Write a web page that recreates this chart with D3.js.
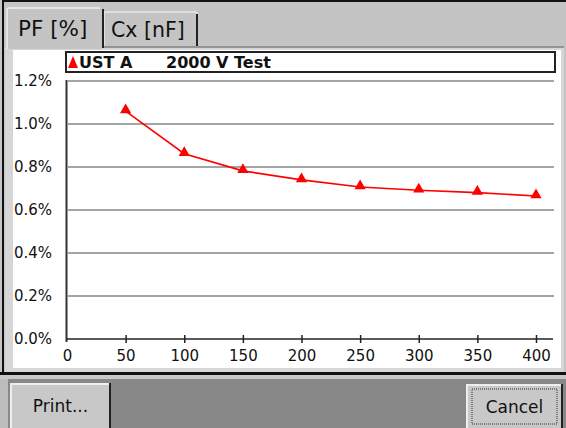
<!DOCTYPE html>
<html><head><meta charset="utf-8">
<script src="https://cdn.jsdelivr.net/npm/d3@7"></script>
<style>
html,body{margin:0;padding:0;background:#c4c4c4;}
svg{display:block;}
</style></head>
<body>
<svg id="c" width="566" height="428"></svg>
<script>
const voltages = [50, 100, 150, 200, 250, 300, 350, 400];
const pfValues = [1.06, 0.862, 0.782, 0.740, 0.707, 0.692, 0.681, 0.665];
const xTicks = [0, 50, 100, 150, 200, 250, 300, 350, 400];
const yTicks = [0, 0.2, 0.4, 0.6, 0.8, 1.0, 1.2];
const tabLabels = ["PF [%]", "Cx [nF]"];
const legendLabel = ["UST A", "2000 V Test"];
const buttonLabels = ["Print...", "Cancel"];

const svg = d3.select("#c");
const F = "'DejaVu Sans', Verdana, sans-serif";

// window background
svg.append("rect").attr("x",0).attr("y",0).attr("width",566).attr("height",428).attr("fill","#c4c4c4");
// outer dark frame top/left
svg.append("rect").attr("x",2).attr("y",0).attr("width",564).attr("height",2).attr("fill","#111");
svg.append("rect").attr("x",2).attr("y",0).attr("width",2).attr("height",376).attr("fill","#111");

// panel
svg.append("rect").attr("x",5).attr("y",47).attr("width",559).attr("height",325).attr("fill","#d6d6d6");
svg.append("line").attr("x1",103).attr("x2",564).attr("y1",47).attr("y2",47).attr("stroke","#808080").attr("stroke-width",1.5);
svg.append("rect").attr("x",13).attr("y",50).attr("width",548).attr("height",318).attr("fill","#fff");

// tabs
const t2 = svg.append("g");
t2.append("path").attr("d","M104,46 L104,14 Q104,12 106,12 L195,12 Q197,12 197,14 L197,46")
  .attr("fill","#c4c4c4").attr("stroke","#e8e8e8").attr("stroke-width",1.5);
t2.append("line").attr("x1",197).attr("x2",197).attr("y1",14).attr("y2",46).attr("stroke","#222").attr("stroke-width",2);
t2.append("text").attr("x",111).attr("y",37).attr("font-family",F).attr("font-size",20.5).attr("fill","#111").text(tabLabels[1]);
const t1 = svg.append("g");
t1.append("path").attr("d","M7,49 L7,10 Q7,8 9,8 L100,8 Q102,8 102,10 L102,49 Z")
  .attr("fill","#c4c4c4");
t1.append("path").attr("d","M7,49 L7,10 Q7,8 9,8 L100,8").attr("fill","none").attr("stroke","#eeeeee").attr("stroke-width",1.5);
t1.append("line").attr("x1",103).attr("x2",103).attr("y1",9).attr("y2",48).attr("stroke","#222").attr("stroke-width",2);
t1.append("text").attr("x",18).attr("y",36).attr("font-family",F).attr("font-size",21.5).attr("fill","#111").text(tabLabels[0]);

// bottom black separator and bar
svg.append("rect").attr("x",0).attr("y",372).attr("width",566).attr("height",3).attr("fill","#111");
svg.append("rect").attr("x",0).attr("y",375).attr("width",566).attr("height",4).attr("fill","#c8c8c8");
svg.append("rect").attr("x",0).attr("y",379).attr("width",566).attr("height",49).attr("fill","#888888");
svg.append("rect").attr("x",0).attr("y",379).attr("width",8).attr("height",49).attr("fill","#bdbdbd");

// scales
const x = d3.scaleLinear().domain([0,400]).range([67,536]);
const y = d3.scaleLinear().domain([0,1.2]).range([339,81]);

// gridlines
svg.append("g").selectAll("line").data(yTicks.filter(d=>d>0)).join("line")
  .attr("x1",68).attr("x2",554).attr("y1",d=>y(d)).attr("y2",d=>y(d))
  .attr("stroke","#a4a4a4").attr("stroke-width",2);

// y axis line
svg.append("line").attr("x1",66.5).attr("x2",66.5).attr("y1",80).attr("y2",342).attr("stroke","#333").attr("stroke-width",2);

// x axis
const xa = svg.append("g").attr("transform","translate(0,339)")
  .call(d3.axisBottom(x).tickValues(xTicks).tickSize(4).tickSizeOuter(0).tickFormat(d3.format("d")));
xa.select(".domain").remove();
xa.append("line").attr("x1",66).attr("x2",553).attr("y1",0).attr("y2",0).attr("stroke","#222").attr("stroke-width",1.5);
xa.selectAll(".tick line").attr("y1",-4).attr("y2",4).attr("stroke","#222").attr("stroke-width",1.5)
  .filter(d=>d===0).remove();
xa.selectAll(".tick text").attr("y",11).attr("dy","0.71em").attr("font-family",F).attr("font-size",15).attr("fill","#111");

// y axis labels
const ya = svg.append("g").attr("transform","translate(52,0)")
  .call(d3.axisLeft(y).tickValues(yTicks).tickSize(0).tickPadding(0).tickFormat(d=>d3.format(".1f")(d)+"%"));
ya.select(".domain").remove();
ya.selectAll(".tick text").attr("font-family",F).attr("font-size",15).attr("fill","#111");

// data line
const line = d3.line().x((d,i)=>x(voltages[i])).y(d=>y(d));
svg.append("path").datum(pfValues).attr("d",line).attr("fill","none").attr("stroke","#ff0000").attr("stroke-width",1.6);
const tri = d3.symbol().type(d3.symbolTriangle).size(55);
svg.append("g").selectAll("path").data(pfValues).join("path")
  .attr("transform",(d,i)=>`translate(${x(voltages[i])},${y(d)-1})`)
  .attr("d",tri).attr("fill","#ff0000");

// legend box
svg.append("rect").attr("x",66).attr("y",52).attr("width",489).attr("height",20).attr("fill","#fff").attr("stroke","#222").attr("stroke-width",2);
svg.append("path").attr("d","M68,68 L73,56 L78,68 Z").attr("fill","#ff0000");
svg.append("text").attr("x",79).attr("y",68).attr("font-family",F).attr("font-weight","bold").attr("font-size",16).attr("fill","#111").text(legendLabel[0]);
svg.append("text").attr("x",166).attr("y",68).attr("font-family",F).attr("font-weight","bold").attr("font-size",16).attr("fill","#111").text(legendLabel[1]);

// buttons
function button(x0,y0,w,h,label,focus){
  const g = svg.append("g");
  g.append("rect").attr("x",x0).attr("y",y0).attr("width",w).attr("height",h).attr("fill","#c8c8c8");
  g.append("path").attr("d",`M${x0+1},${y0+h} L${x0+1},${y0+1} L${x0+w},${y0+1}`).attr("fill","none").attr("stroke","#eeeeee").attr("stroke-width",2);
  g.append("path").attr("d",`M${x0+w-1},${y0} L${x0+w-1},${y0+h}`).attr("fill","none").attr("stroke","#222").attr("stroke-width",2);
  if(focus){
    g.append("rect").attr("x",x0+6).attr("y",y0+5).attr("width",w-12).attr("height",h-10).attr("fill","none")
      .attr("stroke","#333").attr("stroke-width",1).attr("stroke-dasharray","1,1");
  }
  g.append("text").attr("x",x0+w/2).attr("y",y0+h/2+6).attr("text-anchor","middle").attr("font-family",F).attr("font-size",17).attr("fill","#111").text(label);
}
button(10,383,101,46,buttonLabels[0],false);
button(466,384,97,45,buttonLabels[1],true);
</script>
</body></html>
